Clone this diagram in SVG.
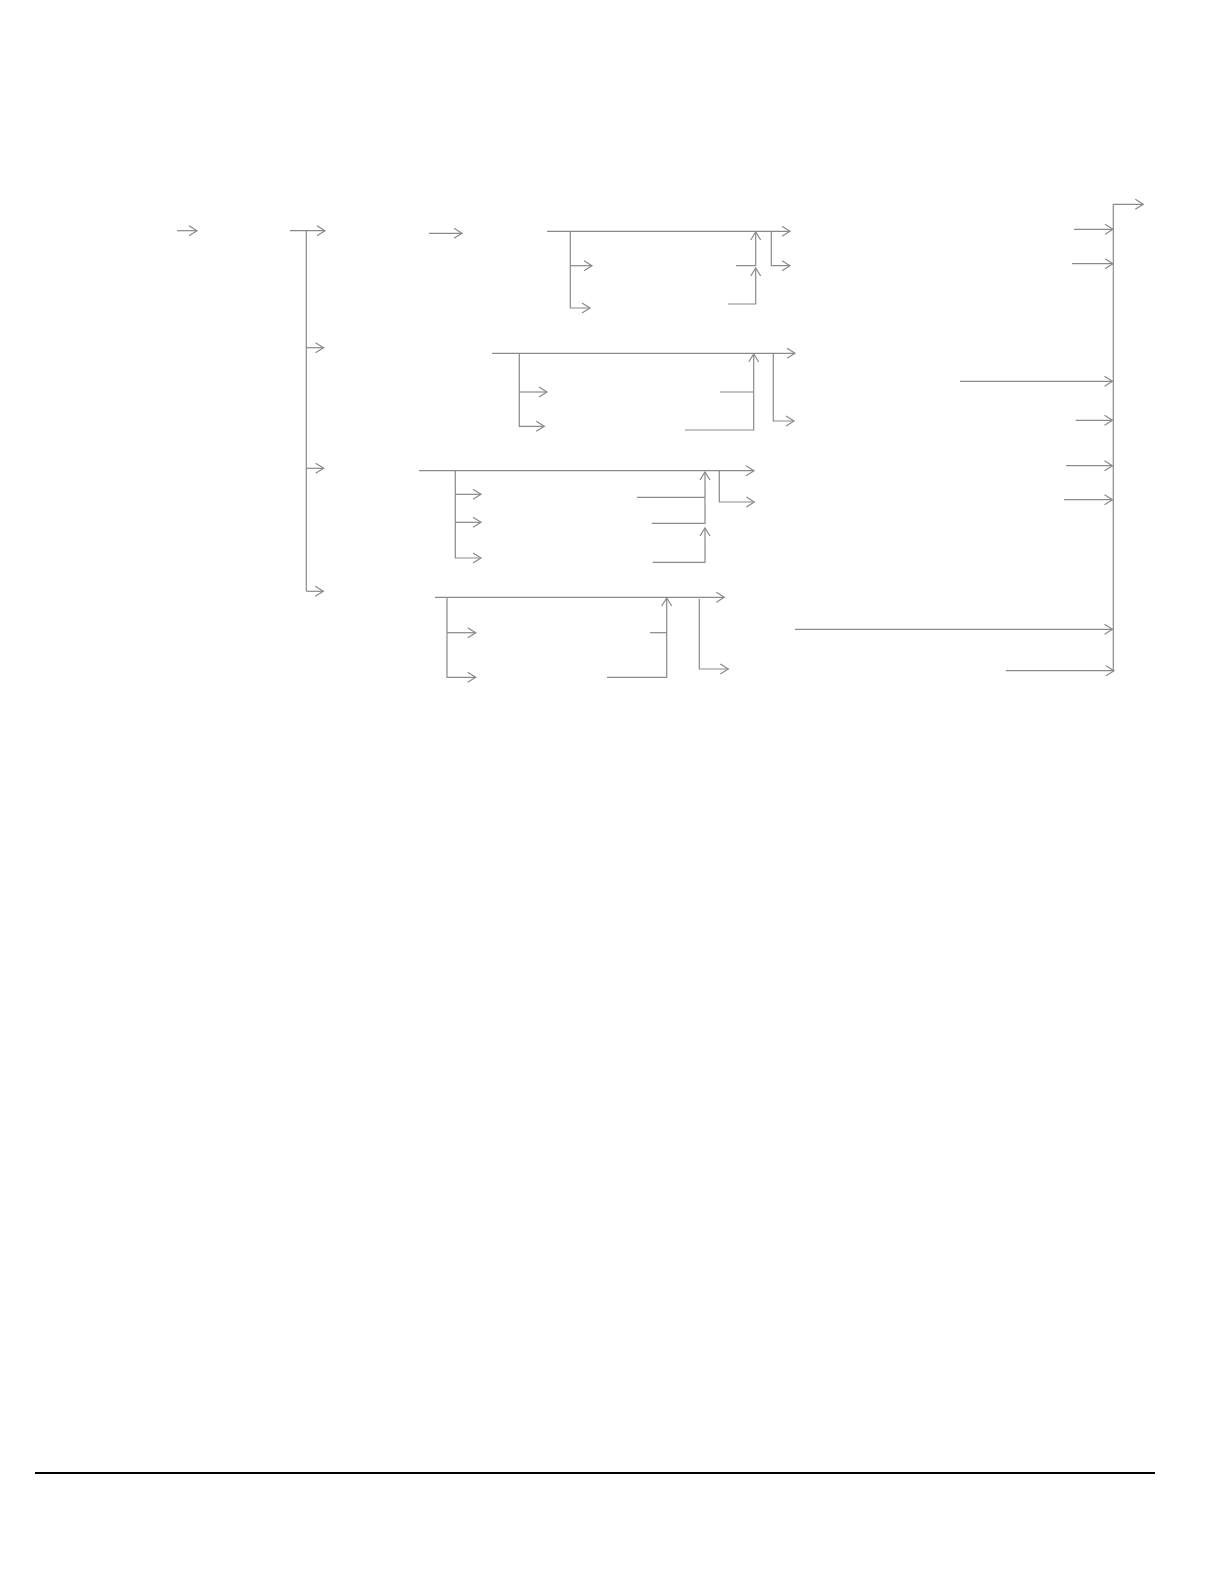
<svg xmlns="http://www.w3.org/2000/svg" width="1224" height="1582" viewBox="0 0 1224 1582">
<style>
.c{fill:none;stroke:#8a8a8a;stroke-width:1.2}
.a{marker-end:url(#ah)}
.rule{stroke:#000;stroke-width:2}
</style>
<defs>
<marker id="ah" markerUnits="userSpaceOnUse" markerWidth="14" markerHeight="14" refX="11" refY="6" orient="auto">
<path d="M3,1 L11,6 L3,11" fill="none" stroke="#8a8a8a" stroke-width="1.2"/>
</marker>
</defs>
<rect width="1224" height="1582" fill="#fff"/>
<g id="connectors">
<path class="c a" d="M177,230.7 H197"/>
<path class="c a" d="M290,230.7 H325"/>
<path class="c" d="M306.3,230.7 V591.3"/>
<path class="c a" d="M306.3,347.7 H323.5"/>
<path class="c a" d="M306.3,468.3 H323.7"/>
<path class="c a" d="M306.3,591.3 H323.3"/>
<path class="c a" d="M429,233.3 H462"/>

<path class="c a" d="M547,231.3 H790"/>
<path class="c a" d="M570.3,231.3 V308 H590"/>
<path class="c a" d="M570.3,265.7 H592"/>
<path class="c a" d="M728,304 H755.7 V268"/>
<path class="c a" d="M736,265.7 H755.7 V232"/>
<path class="c a" d="M771.3,231.3 V265.7 H790"/>

<path class="c a" d="M492,353.3 H795"/>
<path class="c a" d="M519.3,353.3 V426.3 H544.3"/>
<path class="c a" d="M519.3,392 H547"/>
<path class="c a" d="M685,430 H753.7 V354"/>
<path class="c" d="M720,392 H753.7"/>
<path class="c a" d="M773.3,353.3 V421 H794"/>

<path class="c a" d="M419,470.7 H754"/>
<path class="c a" d="M455.3,470.7 V558 H481"/>
<path class="c a" d="M455.3,494.3 H481"/>
<path class="c a" d="M455.3,522.3 H481"/>
<path class="c a" d="M651.7,523.3 H705 V472"/>
<path class="c" d="M637,497.3 H705"/>
<path class="c a" d="M652.7,562.3 H705 V528"/>
<path class="c a" d="M719.3,470.7 V502 H754.3"/>

<path class="c a" d="M435,597.3 H724.3"/>
<path class="c a" d="M447,597.3 V677.3 H475.7"/>
<path class="c a" d="M447,632.7 H475.7"/>
<path class="c a" d="M607,677.3 H666.7 V598"/>
<path class="c" d="M650,632.7 H666.7"/>
<path class="c a" d="M699.3,599 V669 H728.3"/>

<path class="c a" d="M1113.3,671 V204.3 H1143.3"/>
<path class="c a" d="M1074,229.3 H1113"/>
<path class="c a" d="M1072,263.7 H1113"/>
<path class="c a" d="M960,381.3 H1112.5"/>
<path class="c a" d="M1075.7,420.3 H1112.5"/>
<path class="c a" d="M1066,465.7 H1112.5"/>
<path class="c a" d="M1064,499.7 H1112.5"/>
<path class="c a" d="M795,629.3 H1112.5"/>
<path class="c a" d="M1005.7,670.7 H1114"/>
</g>
<line class="rule" x1="35" y1="1473" x2="1155" y2="1473"/>
</svg>
